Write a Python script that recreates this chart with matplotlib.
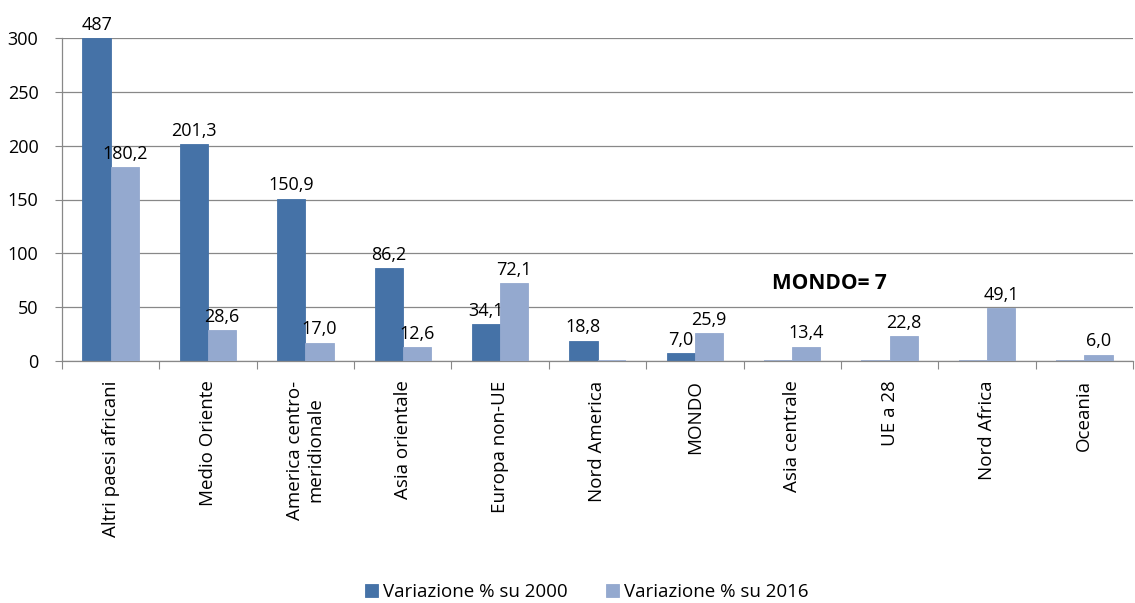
import matplotlib
matplotlib.use("Agg")
import matplotlib.pyplot as plt
import numpy as np

categories = ["Altri paesi africani", "Medio Oriente", "America centro-\nmeridionale",
              "Asia orientale", "Europa non-UE", "Nord America", "MONDO",
              "Asia centrale", "UE a 28", "Nord Africa", "Oceania"]
var_2000 = [487, 201.3, 150.9, 86.2, 34.1, 18.8, 7.0, 0, 0, 0, 0]
var_2016 = [180.2, 28.6, 17.0, 12.6, 72.1, 0, 25.9, 13.4, 22.8, 49.1, 6.0]
labels_2000 = ["487", "201,3", "150,9", "86,2", "34,1", "18,8", "7,0", "", "", "", ""]
labels_2016 = ["180,2", "28,6", "17,0", "12,6", "72,1", "", "25,9", "13,4", "22,8", "49,1", "6,0"]
series_names = ["Variazione % su 2000", "Variazione % su 2016"]
y_ticks = [0, 50, 100, 150, 200, 250, 300]

plt.rcParams['font.family'] = ['Open Sans', 'DejaVu Sans']
c1 = "#4572A7"
c2 = "#94A9CF"

fig = plt.figure(figsize=(11.35, 6.03), dpi=100)
ax = fig.add_axes([62/1135, 1-361/603, (1133-62)/1135, (361-38)/603])

x = np.arange(len(categories))
w = 0.29
ymax = 300
h1 = [min(v, ymax) for v in var_2000]
h2 = [min(v, ymax) for v in var_2016]
b1 = ax.bar(x - w/2, h1, w, color=c1, edgecolor=c1, linewidth=0.6, label=series_names[0], zorder=2)
b2 = ax.bar(x + w/2, h2, w, color=c2, edgecolor=c2, linewidth=0.6, label=series_names[1], zorder=3)
for rect in list(b1) + list(b2):
    if rect.get_height() == 0:
        rect.set_edgecolor(c2)
        rect.set_linewidth(1.2)

for xi, h, lab in zip(x, h1, labels_2000):
    if lab:
        ax.text(xi - w/2, h + 4, lab, ha='center', va='bottom', fontsize=13, clip_on=False, zorder=1)
for xi, h, lab in zip(x, h2, labels_2016):
    if lab:
        ax.text(xi + w/2, h + 4, lab, ha='center', va='bottom', fontsize=13, clip_on=False, zorder=4)

ax.text(7.38, 72, "MONDO= 7", ha='center', va='center', fontsize=15, fontweight='bold')

ax.set_xlim(-0.5, len(categories) - 0.5)
ax.set_ylim(0, ymax)
ax.set_yticks(y_ticks)
ax.tick_params(axis='y', labelsize=13, length=5, color='#888888', pad=12)
ax.grid(axis='y', color='#888888', linewidth=0.9, zorder=0)
ax.set_axisbelow(True)

ax.set_xticks(np.arange(-0.5, len(categories), 1.0))
ax.set_xticklabels([])
ax.tick_params(axis='x', length=6, color='#888888')
ax.set_xticks(x, minor=True)
ax.set_xticklabels(categories, minor=True, rotation=90, fontsize=13.5, va='top', ha='center',
                   multialignment='center')
ax.tick_params(axis='x', which='minor', length=0, pad=14)

for s in ['top', 'right']:
    ax.spines[s].set_visible(False)
for s in ['left', 'bottom']:
    ax.spines[s].set_color('#888888')
    ax.spines[s].set_linewidth(0.9)

fig.legend(handles=[b1, b2], labels=series_names, loc='center', bbox_to_anchor=(0.517, 1-592/603),
           ncol=2, frameon=False, fontsize=13.5, handlelength=0.7, handleheight=0.7,
           handletextpad=0.3, columnspacing=2.0)

fig.savefig("out.png", dpi=100)
